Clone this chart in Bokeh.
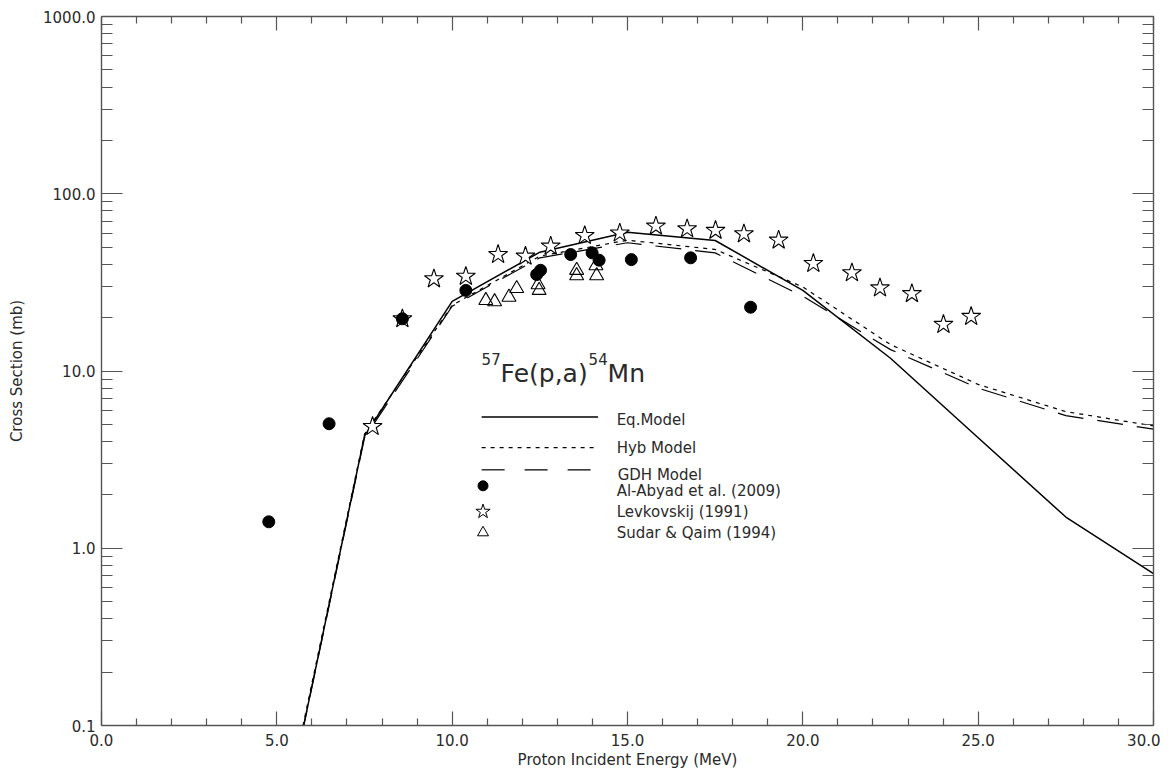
from bokeh.plotting import figure
from bokeh.models import (Range1d, LinearAxis, LogAxis, FixedTicker,
                          PrintfTickFormatter, CustomJSTickFormatter)
from bokeh.core.properties import value
from bokeh.embed import file_html
from bokeh.resources import INLINE

# ---------------- data ----------------
energy_grid = [5.0, 7.5, 10.0, 12.5, 15.0, 17.5, 20.0, 22.5, 25.0, 27.5, 30.0]
eq_model = [0.019, 4.3, 24.7, 46.8, 60.7, 54.5, 28.5, 11.8, 4.2, 1.5, 0.72]
hyb_model = [0.020, 4.4, 23.5, 44.5, 54.7, 48.5, 29.8, 14.1, 8.4, 5.9, 4.9]
gdh_model = [0.019, 4.2, 23.2, 43.5, 52.9, 46.4, 26.4, 13.2, 8.0, 5.6, 4.7]

alabyad_e = [4.77, 6.49, 8.58, 10.39, 12.41, 12.52, 13.38, 13.99, 14.19, 15.11, 16.80, 18.51]
alabyad_xs = [1.41, 5.04, 19.7, 28.5, 35.0, 37.0, 45.4, 46.4, 42.2, 42.5, 43.5, 22.9]

levk_e = [7.73, 8.58, 9.48, 10.39, 11.31, 12.09, 12.81, 13.78, 14.78, 15.81,
          16.70, 17.51, 18.32, 19.31, 20.30, 21.40, 22.20, 23.11, 24.01, 24.80]
levk_xs = [4.86, 19.7, 33.1, 34.2, 45.4, 44.4, 50.6, 58.1, 60.0, 65.6,
           63.4, 62.1, 59.4, 54.7, 40.4, 35.8, 29.4, 27.3, 18.3, 20.3]

sudar_e = [10.96, 11.21, 11.62, 11.84, 12.45, 12.48, 13.55, 13.55, 14.10, 14.12]
sudar_xs = [25.0, 24.6, 26.1, 29.2, 30.7, 28.5, 37.0, 34.5, 39.3, 34.5]

x_ticks = [0, 5, 10, 15, 20, 25, 30]
y_ticks = [0.1, 1.0, 10.0, 100.0, 1000.0]

legend_labels = ["Eq.Model", "Hyb Model", "GDH Model",
                 "Al-Abyad et al. (2009)", "Levkovskij (1991)", "Sudar & Qaim (1994)"]

# ---------------- figure ----------------
FONT = "DejaVu Sans"
AX_COLOR = "#555555"
TXT_COLOR = "#2a2a2a"

p = figure(width=1160, height=771, x_range=Range1d(0, 30), y_range=Range1d(0.1, 1000),
           y_axis_type="log", output_backend="svg", toolbar_location=None,
           min_border_left=101, min_border_right=7, min_border_top=16, min_border_bottom=30)
p.outline_line_color = None
p.xgrid.visible = False
p.ygrid.visible = False
p.background_fill_color = "white"
p.border_fill_color = "white"

minor_x = [v for v in range(0, 31) if v % 5 != 0]
minor_y = [m * 10.0 ** d for d in range(-1, 3) for m in range(2, 10)]


def style_x(ax, labels=True):
    ax.ticker = FixedTicker(ticks=x_ticks, minor_ticks=minor_x)
    ax.major_tick_in = 14
    ax.major_tick_out = 0
    ax.minor_tick_in = 7
    ax.minor_tick_out = 0
    ax.axis_line_color = AX_COLOR
    ax.axis_line_width = 1.4
    ax.major_tick_line_color = AX_COLOR
    ax.minor_tick_line_color = AX_COLOR
    ax.major_tick_line_width = 1.2
    ax.minor_tick_line_width = 1.2
    if labels:
        ax.formatter = PrintfTickFormatter(format="%.1f")
        ax.major_label_text_font = FONT
        ax.major_label_text_font_size = "15px"
        ax.major_label_text_color = TXT_COLOR
        ax.major_label_standoff = 8
    else:
        ax.formatter = CustomJSTickFormatter(code="return ''")
        ax.major_label_standoff = 0


def style_y(ax, labels=True):
    ax.ticker = FixedTicker(ticks=y_ticks, minor_ticks=minor_y)
    ax.major_tick_in = 21
    ax.major_tick_out = 0
    ax.minor_tick_in = 11
    ax.minor_tick_out = 0
    ax.axis_line_color = AX_COLOR
    ax.axis_line_width = 1.4
    ax.major_tick_line_color = AX_COLOR
    ax.minor_tick_line_color = AX_COLOR
    ax.major_tick_line_width = 1.2
    ax.minor_tick_line_width = 1.2
    if labels:
        ax.formatter = PrintfTickFormatter(format="%.1f")
        ax.major_label_text_font = FONT
        ax.major_label_text_font_size = "15px"
        ax.major_label_text_color = TXT_COLOR
        ax.major_label_standoff = 6
    else:
        ax.formatter = CustomJSTickFormatter(code="return ''")
        ax.major_label_standoff = 0


xa = p.xaxis[0]
style_x(xa)
xa.axis_label = "Proton Incident Energy (MeV)"
xa.axis_label_text_font = FONT
xa.axis_label_text_font_size = "15px"
xa.axis_label_text_font_style = "normal"
xa.axis_label_text_color = TXT_COLOR
xa.axis_label_standoff = 2

ya = p.yaxis[0]
style_y(ya)
ya.axis_label = "Cross Section (mb)"
ya.axis_label_text_font = FONT
ya.axis_label_text_font_size = "15px"
ya.axis_label_text_font_style = "normal"
ya.axis_label_text_color = TXT_COLOR
ya.axis_label_standoff = 14

top = LinearAxis()
style_x(top, labels=False)
p.add_layout(top, "above")
right = LogAxis()
style_y(right, labels=False)
p.add_layout(right, "right")

# ---------------- model curves ----------------
p.line(energy_grid, eq_model, line_color="black", line_width=1.5)
p.line(energy_grid, hyb_model, line_color="black", line_width=1.2, line_dash="4 5")
p.line(energy_grid, gdh_model, line_color="black", line_width=1.2, line_dash="26 14")

# ---------------- experimental points ----------------
p.scatter(sudar_e, sudar_xs, marker="triangle", size=14, fill_color=None,
          line_color="black", line_width=1.1)
p.scatter(levk_e, levk_xs, marker="star", size=20, fill_color="white",
          line_color="black", line_width=1.1)
p.scatter(alabyad_e, alabyad_xs, marker="circle", size=12, fill_color="black",
          line_color="black")

# ---------------- title (reaction) ----------------
tx, ty = 10.84, 9.74
p.text([tx], [ty], text=["57"], text_font=value(FONT), text_font_size=value("15px"),
       text_baseline="alphabetic", text_align="left", text_color=TXT_COLOR, y_offset=-14)
p.text([tx], [ty], text=["Fe(p,a)"], text_font=value(FONT), text_font_size=value("25px"),
       text_baseline="alphabetic", text_align="left", text_color=TXT_COLOR, x_offset=19)
p.text([tx], [ty], text=["54"], text_font=value(FONT), text_font_size=value("15px"),
       text_baseline="alphabetic", text_align="left", text_color=TXT_COLOR,
       x_offset=107, y_offset=-14)
p.text([tx], [ty], text=["Mn"], text_font=value(FONT), text_font_size=value("25px"),
       text_baseline="alphabetic", text_align="left", text_color=TXT_COLOR, x_offset=126)

# ---------------- legend ----------------
lx0, lx1 = 10.84, 14.16
p.line([lx0, lx1], [5.50, 5.50], line_color="black", line_width=1.3)
p.line([lx0, lx1], [3.70, 3.70], line_color="black", line_width=1.2, line_dash="4 5")
p.line([lx0, lx1], [2.77, 2.77], line_color="black", line_width=1.2, line_dash="23 20")
p.scatter([10.88], [2.25], marker="circle", size=10, fill_color="black", line_color="black")
p.scatter([10.88], [1.61], marker="star", size=15, fill_color="white", line_color="black")
p.scatter([10.88], [1.225], marker="triangle", size=11, fill_color=None, line_color="black")

p.text([14.69, 14.69, 14.72, 14.69, 14.69, 14.69],
       [5.31, 3.68, 2.60, 2.10, 1.61, 1.215],
       text=legend_labels, text_font=value(FONT), text_font_size=value("15px"),
       text_baseline="middle", text_align="left", text_color=TXT_COLOR)

open("out.html", "w").write(file_html(p, INLINE))
